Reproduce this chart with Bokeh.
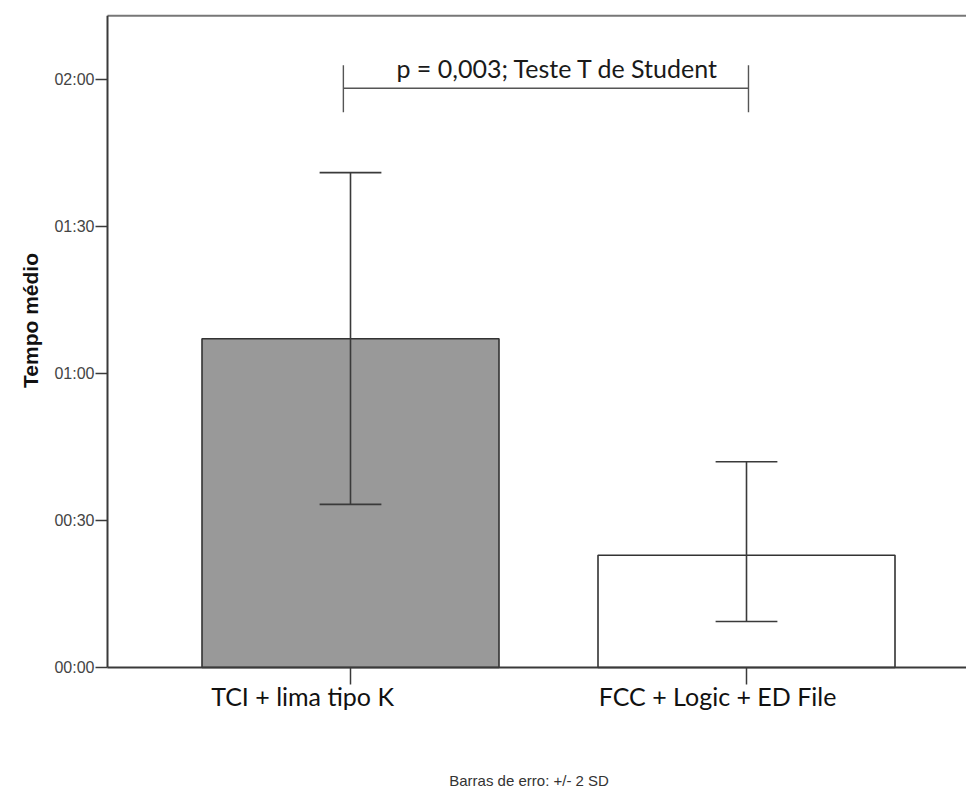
import math
from bokeh.plotting import figure
from bokeh.models import Range1d, ColumnDataSource
from bokeh.core.properties import value
from bokeh.embed import file_html
from bokeh.resources import INLINE

# ---- data (seconds) ----
categories = ["TCI + lima tipo K", "FCC + Logic + ED File"]
mean_seconds = [67.1, 22.9]
upper_seconds = [101.0, 42.0]
lower_seconds = [33.3, 9.4]
bar_colors = ["#999999", "#ffffff"]
y_ticks = [0, 30, 60, 90, 120]
y_tick_labels = ["00:00", "00:30", "01:00", "01:30", "02:00"]
bracket_y = 118.2
bracket_low = 113.3
bracket_high = 122.9
p_text = "p = 0,003; Teste T de Student"
p_text_y = 122.4
y_title = "Tempo médio"
footnote = "Barras de erro: +/- 2 SD"

# ---- geometry helpers (screen px -> data) ----
W, H = 966, 788
PX_X = 1 / 396.0        # data units per horizontal pixel
PX_Y = 1 / 4.9          # seconds per vertical pixel
X0, X1 = -350 * PX_X, (W - 350) * PX_X
Y0, Y1 = -(H - 667) * PX_Y, 667 * PX_Y
AX = X0 + 107 * PX_X    # y-axis position
YTOP = 133.0            # top border of the plot box

xs = list(range(len(categories)))
bar_width = 0.75
cap_half = 0.078
label_shifts = [-0.121, -0.073]
axis_col = "#3a3a3a"

src = ColumnDataSource(dict(
    x=xs, top=mean_seconds, up=upper_seconds, lo=lower_seconds, color=bar_colors,
    cap_l=[x - cap_half for x in xs], cap_r=[x + cap_half for x in xs],
    t0=[0.0 for _ in xs], t1=[-17 * PX_Y for _ in xs],
    lx=[x + s for x, s in zip(xs, label_shifts)], ly=[-28 * PX_Y for _ in xs], name=categories,
))
ysrc = ColumnDataSource(dict(
    y=y_ticks, label=y_tick_labels,
    x0=[AX - 12 * PX_X for _ in y_ticks], x1=[AX for _ in y_ticks],
    lx=[AX - 13 * PX_X for _ in y_ticks],
))

p = figure(width=W, height=H,
           x_range=Range1d(X0, X1), y_range=Range1d(Y0, Y1),
           x_axis_type=None, y_axis_type=None,
           output_backend="svg", toolbar_location=None,
           min_border_left=0, min_border_top=0, min_border_right=0, min_border_bottom=0)
p.grid.visible = False
p.outline_line_color = None
p.background_fill_color = "white"
p.border_fill_color = "white"

# bars
p.vbar(x="x", top="top", width=bar_width, bottom=0, source=src,
       fill_color="color", line_color="#333333", line_width=1.6)

# error bars
p.segment(x0="x", y0="lo", x1="x", y1="up", source=src, line_color=axis_col, line_width=1.6)
p.segment(x0="cap_l", y0="up", x1="cap_r", y1="up", source=src, line_color=axis_col, line_width=1.6)
p.segment(x0="cap_l", y0="lo", x1="cap_r", y1="lo", source=src, line_color=axis_col, line_width=1.6)

# plot box: top border, y axis line, x axis line
p.segment(x0=[AX], y0=[YTOP], x1=[X1], y1=[YTOP], line_color="#777777", line_width=2)
p.segment(x0=[AX], y0=[0], x1=[AX], y1=[YTOP], line_color=axis_col, line_width=2)
p.segment(x0=[AX], y0=[0], x1=[X1], y1=[0], line_color=axis_col, line_width=2)

# x ticks, category labels, footnote
p.segment(x0="x", y0="t0", x1="x", y1="t1", source=src, line_color=axis_col, line_width=1.5)
p.text(x="lx", y="ly", text="name", source=src, text_font=value("Lato"),
       text_font_size="25px", text_color="#111111", text_align="center", text_baseline="middle")
p.text(x=[(AX + X1) / 2 - 0.02], y=[-113 * PX_Y], text=[footnote],
       text_font=value("Liberation Sans"), text_font_size="15px", text_color="#333333",
       text_align="center", text_baseline="middle")

# y ticks, labels, title
p.segment(x0="x0", y0="y", x1="x1", y1="y", source=ysrc, line_color=axis_col, line_width=1.5)
p.text(x="lx", y="y", text="label", source=ysrc, text_font=value("Liberation Sans"),
       text_font_size="16px", text_color="#444444", text_align="right", text_baseline="middle")
p.text(x=[X0 + 30 * PX_X], y=[(667 - 320) * PX_Y], text=[y_title], angle=math.pi / 2,
       text_font=value("Liberation Sans"), text_font_style="bold", text_font_size="21px",
       text_color="#111111", text_align="center", text_baseline="middle")

# significance bracket
bx0 = xs[0] - 0.018
bx1 = xs[1] + 0.005
p.segment(x0=[bx0], y0=[bracket_y], x1=[bx1], y1=[bracket_y], line_color="#555555", line_width=1.4)
p.segment(x0=[bx0, bx1], y0=[bracket_low, bracket_low], x1=[bx0, bx1],
          y1=[bracket_high, bracket_high], line_color="#555555", line_width=1.4)
p.text(x=[(bx0 + bx1) / 2 + 0.03], y=[p_text_y], text=[p_text],
       text_font=value("Lato"), text_font_size="25px", text_color="#1a1a1a",
       text_align="center", text_baseline="middle")

open("out.html", "w").write(file_html(p, INLINE))
